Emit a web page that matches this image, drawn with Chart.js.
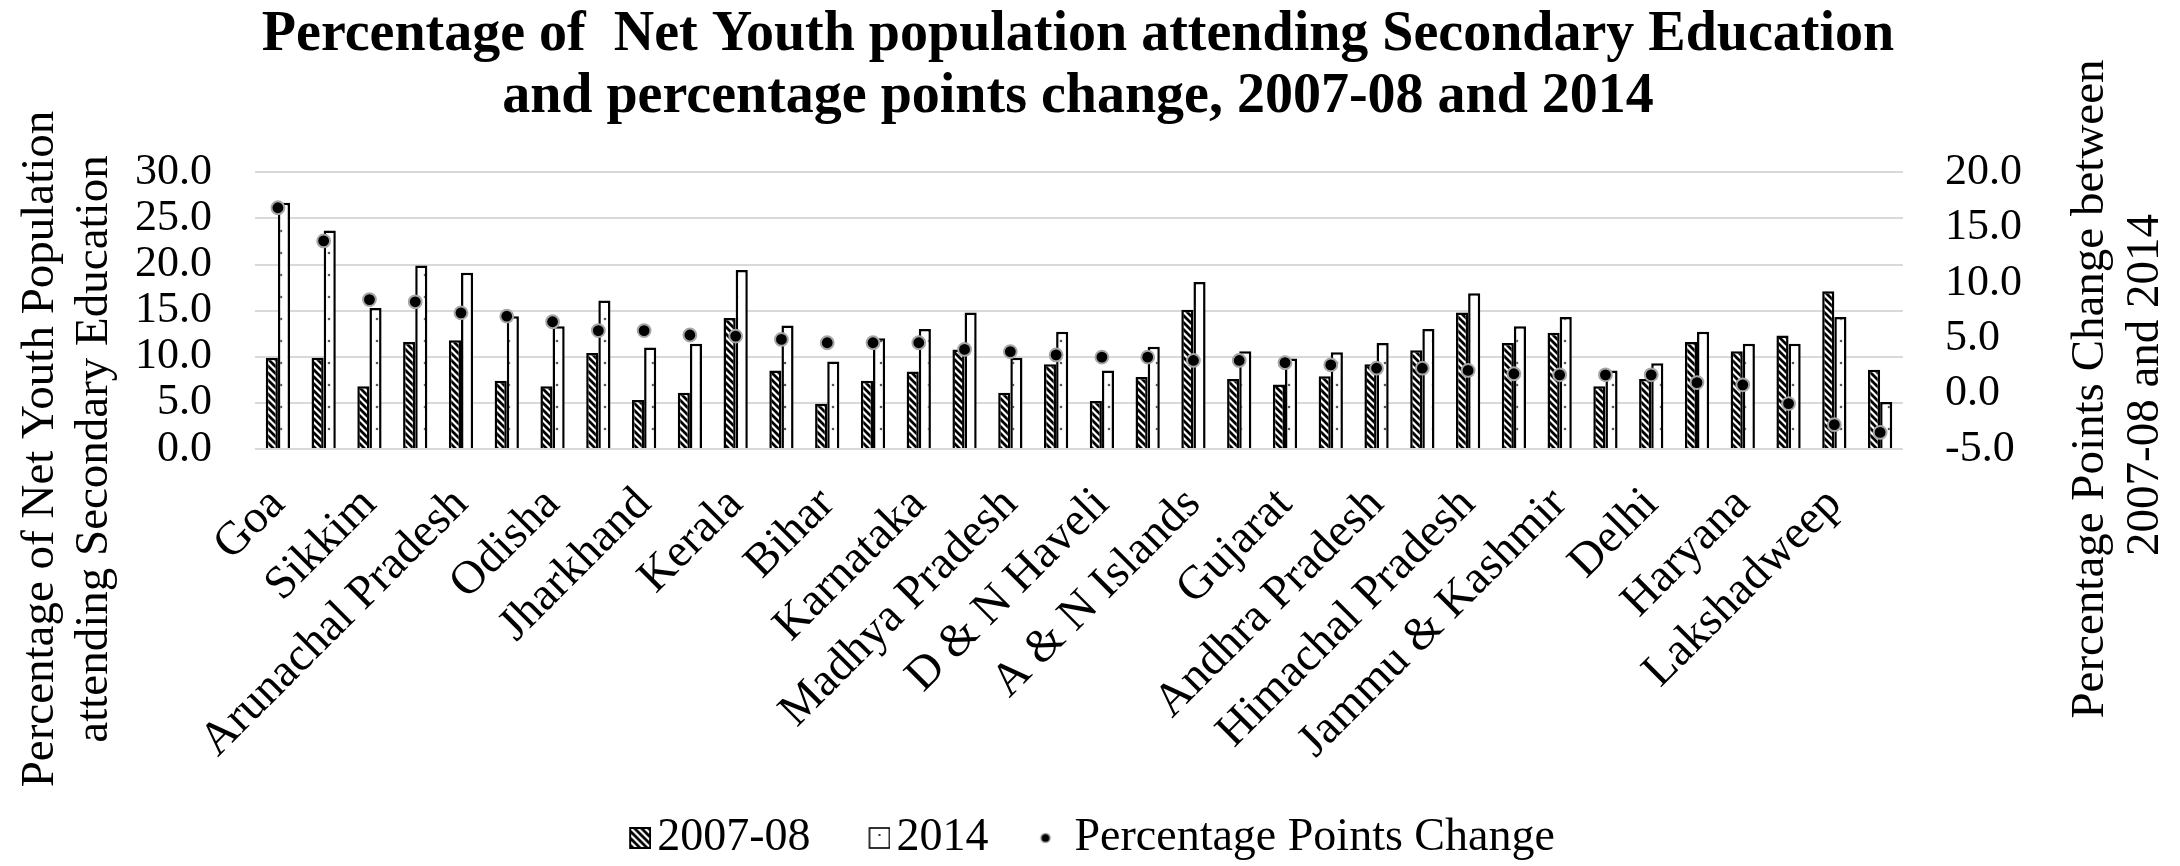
<!DOCTYPE html>
<html>
<head>
<meta charset="utf-8">
<title>Net Youth population attending Secondary Education</title>
<script src="https://cdn.jsdelivr.net/npm/chart.js@4.4.1/dist/chart.umd.min.js"></script>
<style>
  html, body { margin: 0; padding: 0; background: #fff; }
</style>
</head>
<body>
<canvas id="youthChart" width="2180" height="866"></canvas>
<script>
// data (sorted by percentage points change)
var states = [
  'Goa', 'Manipur', 'Sikkim', 'Mizoram', 'Arunachal Pradesh', 'Meghalaya',
  'Odisha', 'Nagaland', 'Jharkhand', 'Assam', 'Kerala', 'Tripura',
  'Bihar', 'Uttar Pradesh', 'Karnataka', 'Puducherry', 'Madhya Pradesh', 'Rajasthan',
  'D & N Haveli', 'West Bengal', 'A & N Islands', 'Chhattisgarh', 'Gujarat', 'All India',
  'Andhra Pradesh', 'Maharashtra', 'Himachal Pradesh', 'Tamil Nadu', 'Jammu & Kashmir', 'Uttarakhand',
  'Delhi', 'Punjab', 'Haryana', 'Chandigarh', 'Lakshadweep', 'Daman & Diu'
];
var year2007 = [
  9.9, 9.9, 6.8, 11.6, 11.8, 7.4,
  6.8, 10.4, 5.3, 6.1, 14.2, 8.5,
  4.9, 7.4, 8.4, 10.8, 6.1, 9.2,
  5.2, 7.8, 15.1, 7.6, 7.0, 7.9,
  9.2, 10.7, 14.8, 11.5, 12.6, 6.8,
  7.6, 11.6, 10.6, 12.3, 17.1, 8.6
];
var year2014 = [
  26.7, 23.7, 15.3, 19.9, 19.1, 14.4,
  13.3, 16.1, 11.0, 11.4, 19.4, 13.4,
  9.5, 12.0, 13.0, 14.8, 9.9, 12.7,
  8.5, 11.1, 18.1, 10.6, 9.8, 10.5,
  11.5, 13.0, 16.9, 13.3, 14.3, 8.5,
  9.3, 12.7, 11.4, 11.4, 14.3, 5.1
];
var pointsChange = [
  16.8, 13.8, 8.5, 8.3, 7.3, 7.0,
  6.5, 5.7, 5.7, 5.3, 5.2, 4.9,
  4.6, 4.6, 4.6, 4.0, 3.8, 3.5,
  3.3, 3.3, 3.0, 3.0, 2.8, 2.6,
  2.3, 2.3, 2.1, 1.8, 1.7, 1.7,
  1.7, 1.0, 0.8, -0.9, -2.8, -3.5
];
var seriesNames = ['2007-08', '2014', 'Percentage Points Change'];
var chartTitle = [
  'Percentage of  Net Youth population attending Secondary Education',
  'and percentage points change, 2007-08 and 2014'
];
var leftTitle = ['Percentage of Net Youth Population', 'attending Secondary Education'];
var rightTitle = ['Percentage Points Change between', '2007-08 and 2014'];

var FONT = '"Liberation Serif", "Times New Roman", serif';

// fills for the bars
function makeCanvas(w, h) {
  var c = document.createElement('canvas');
  c.width = w; c.height = h;
  return c;
}

function hatchTile() {
  var c = makeCanvas(7, 7);
  var g = c.getContext('2d');
  g.fillStyle = '#fff';
  g.fillRect(0, 0, 7, 7);
  g.strokeStyle = '#000';
  g.lineWidth = 2.8;
  g.beginPath();
  for (var k = -1; k <= 1; k++) {
    g.moveTo(k * 7 - 1, -1);
    g.lineTo(k * 7 + 8, 8);
  }
  g.stroke();
  return c;
}

function dotTile() {
  var c = makeCanvas(12, 22);
  var g = c.getContext('2d');
  g.fillStyle = '#fff';
  g.fillRect(0, 0, 12, 22);
  g.fillStyle = '#555';
  g.beginPath();
  g.arc(5, 11, 1.3, 0, Math.PI * 2);
  g.fill();
  return c;
}

var ctx = document.getElementById('youthChart').getContext('2d');
var hatchFill = ctx.createPattern(hatchTile(), 'repeat');
var dotFill = ctx.createPattern(dotTile(), 'repeat');

// legend icons: wide transparent canvas, visible mark pushed to the right
// so the gap before the text stays small and the gap between items wide
var ICON_W = 67;
function hatchIcon() {
  var c = makeCanvas(ICON_W, 22);
  var g = c.getContext('2d');
  g.fillStyle = g.createPattern(hatchTile(), 'repeat');
  g.fillRect(ICON_W - 22, 0, 22, 22);
  g.strokeStyle = '#000';
  g.lineWidth = 2;
  g.strokeRect(ICON_W - 21, 1, 20, 20);
  return c;
}

function plainIcon() {
  var c = makeCanvas(ICON_W, 22);
  var g = c.getContext('2d');
  g.fillStyle = '#fff';
  g.fillRect(ICON_W - 22, 0, 22, 22);
  g.strokeStyle = '#000';
  g.lineWidth = 1.6;
  g.strokeRect(ICON_W - 21, 1, 20, 20);
  g.fillStyle = '#333';
  g.fillRect(ICON_W - 12, 7, 2, 2);
  return c;
}

function pointIcon() {
  var c = makeCanvas(ICON_W, 22);
  var g = c.getContext('2d');
  g.beginPath();
  g.arc(ICON_W / 2 + 10.5, 11, 4.6, 0, Math.PI * 2);
  g.fillStyle = '#000';
  g.fill();
  g.lineWidth = 1.5;
  g.strokeStyle = '#a6a6a6';
  g.stroke();
  return c;
}
var legendIcons = [hatchIcon(), plainIcon(), pointIcon()];

// axis titles drawn by hand so they sit where they do in the figure
var axisTitles = {
  id: 'axisTitles',
  afterDraw: function(chart) {
    var c = chart.ctx;
    c.save();
    c.font = '47px ' + FONT;
    c.fillStyle = '#000';
    c.textAlign = 'center';
    c.textBaseline = 'alphabetic';
    var spots = [
      [leftTitle[0], 53, 449], [leftTitle[1], 107, 449],
      [rightTitle[0], 2103, 389], [rightTitle[1], 2158, 385]
    ];
    spots.forEach(function(s) {
      c.save();
      c.translate(s[1], s[2]);
      c.rotate(-Math.PI / 2);
      c.fillText(s[0], 0, 0);
      c.restore();
    });
    c.restore();
  }
};

var oneDecimal = function(v) { return Number(v).toFixed(1); };

var myChart = new Chart(ctx, {
  type: 'bar',
  data: {
    labels: states,
    datasets: [
      {
        label: seriesNames[0],
        data: year2007,
        backgroundColor: hatchFill,
        borderColor: '#000',
        borderWidth: 2.5,
        yAxisID: 'y',
        order: 1
      },
      {
        label: seriesNames[1],
        data: year2014,
        backgroundColor: dotFill,
        borderColor: '#000',
        borderWidth: 2.5,
        yAxisID: 'y',
        order: 1
      },
      {
        type: 'line',
        label: seriesNames[2],
        data: pointsChange,
        showLine: false,
        pointStyle: 'circle',
        pointRadius: 6.4,
        pointBorderWidth: 2,
        pointBackgroundColor: '#000',
        pointBorderColor: '#a6a6a6',
        yAxisID: 'y1',
        order: 0
      }
    ]
  },
  options: {
    responsive: false,
    devicePixelRatio: 1,
    animation: false,
    categoryPercentage: 0.53,
    barPercentage: 1.0,
    layout: { padding: { top: 4, left: 0, right: 24, bottom: -5 } },
    plugins: {
      title: {
        display: true,
        text: chartTitle,
        color: '#000',
        font: { family: FONT, size: 56, weight: 'bold', lineHeight: 1.11 },
        padding: { top: 0, bottom: 44 }
      },
      legend: {
        position: 'bottom',
        labels: {
          usePointStyle: true,
          pointStyleWidth: 33,
          boxHeight: 22,
          padding: 30,
          color: '#000',
          font: { family: FONT, size: 46 },
          sort: function(a, b) { return a.datasetIndex - b.datasetIndex; },
          generateLabels: function(chart) {
            var items = Chart.defaults.plugins.legend.labels.generateLabels(chart);
            items.forEach(function(it) { it.pointStyle = legendIcons[it.datasetIndex]; });
            return items;
          }
        }
      },
      tooltip: { enabled: false }
    },
    scales: {
      x: {
        grid: { display: false },
        border: { display: false },
        ticks: {
          autoSkip: false,
          maxRotation: 45,
          minRotation: 45,
          padding: 20,
          color: '#000',
          font: { family: FONT, size: 47 },
          callback: function(value, index) {
            return index % 2 === 0 ? this.getLabelForValue(value) : '';
          }
        },
        afterFit: function(scale) { scale.height = 336; }
      },
      y: {
        position: 'left',
        min: 0,
        max: 30,
        grid: { color: '#d9d9d9', lineWidth: 2, drawTicks: false },
        border: { display: false },
        ticks: {
          stepSize: 5,
          autoSkip: false,
          padding: 43,
          color: '#000',
          font: { family: FONT, size: 44 },
          callback: oneDecimal
        },
        afterFit: function(scale) { scale.width = 255; }
      },
      y1: {
        position: 'right',
        min: -5,
        max: 20,
        grid: { display: false, drawTicks: false },
        border: { display: false },
        ticks: {
          stepSize: 5,
          autoSkip: false,
          padding: 42,
          color: '#000',
          font: { family: FONT, size: 44 },
          callback: oneDecimal
        },
        afterFit: function(scale) { scale.width = 253; }
      }
    }
  },
  plugins: [axisTitles]
});
</script>
</body>
</html>
